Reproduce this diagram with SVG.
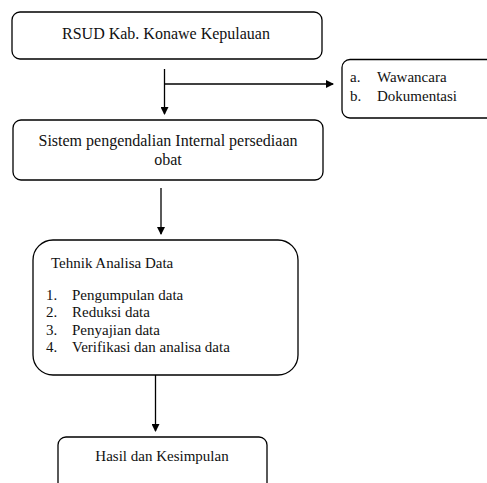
<svg xmlns="http://www.w3.org/2000/svg" width="487" height="483" viewBox="0 0 487 483">
<style>
.box{fill:#fff;stroke:#000;stroke-width:1.3}
.t{font-family:'Liberation Serif','Times New Roman','DejaVu Serif',serif;font-size:15px;fill:#111}
.big{font-size:16px}
.c{text-anchor:middle}
.con line{stroke:#000;stroke-width:1.3;fill:none}
</style>
<defs>
<marker id="ah" markerWidth="8" markerHeight="8" refX="7" refY="4" orient="auto" markerUnits="userSpaceOnUse"><path d="M0,0 L8,4 L0,8 Z" fill="#000"/></marker>
</defs>
<rect width="487" height="483" fill="#fff"/>
<g id="connectors" class="con">
<line x1="164.5" y1="69" x2="164.5" y2="114" marker-end="url(#ah)"/>
<line x1="164.5" y1="84" x2="333" y2="84" marker-end="url(#ah)"/>
<line x1="161" y1="188" x2="161" y2="234" marker-end="url(#ah)"/>
<line x1="155.5" y1="375" x2="155.5" y2="431" marker-end="url(#ah)"/>
</g>
<g id="rsud">
<rect class="box" x="12" y="12" width="310" height="47" rx="8"/>
<text class="t big c" x="166" y="39">RSUD Kab. Konawe Kepulauan</text>
</g>
<g id="metode">
<rect class="box" x="342" y="59.5" width="160" height="58.5" rx="8"/>
<text class="t" x="350" y="82">a.</text>
<text class="t" x="377" y="82">Wawancara</text>
<text class="t" x="350" y="101">b.</text>
<text class="t" x="377" y="101">Dokumentasi</text>
</g>
<g id="sistem">
<rect class="box" x="13" y="120" width="310" height="60" rx="8"/>
<text class="t big c" x="168" y="146">Sistem pengendalian Internal persediaan</text>
<text class="t big c" x="168" y="165">obat</text>
</g>
<g id="analisa">
<rect class="box" x="33" y="240" width="265" height="135" rx="20"/>
<text class="t" x="51" y="268">Tehnik Analisa Data</text>
<text class="t" x="46" y="300">1.</text>
<text class="t" x="72" y="300">Pengumpulan data</text>
<text class="t" x="46" y="317">2.</text>
<text class="t" x="72" y="317">Reduksi data</text>
<text class="t" x="46" y="335">3.</text>
<text class="t" x="72" y="335">Penyajian data</text>
<text class="t" x="46" y="352">4.</text>
<text class="t" x="72" y="352">Verifikasi dan analisa data</text>
</g>
<g id="hasil">
<rect class="box" x="58" y="437" width="209" height="60" rx="8"/>
<text class="t c" x="162" y="461">Hasil dan Kesimpulan</text>
</g>
</svg>
